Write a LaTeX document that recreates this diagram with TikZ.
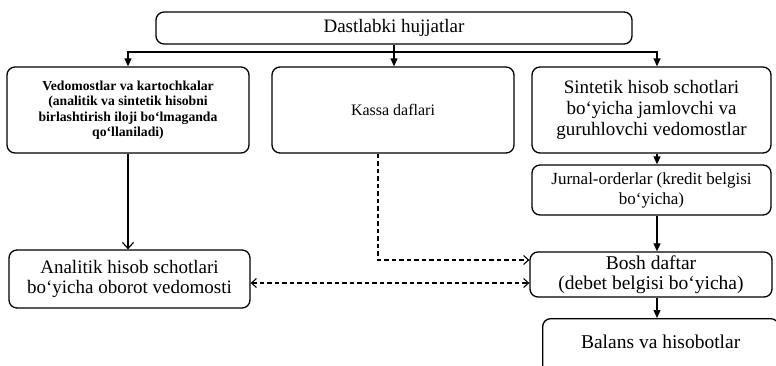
\documentclass[tikz,border=0pt]{standalone}
\usepackage{fontspec}
\setmainfont{Liberation Serif}
\usetikzlibrary{arrows.meta}

\begin{document}
\begin{tikzpicture}[x=1pt,y=-1pt,
  box/.style={draw, line width=1.3pt, rounded corners=8pt, align=center, inner sep=2pt},
  arr/.style={line width=1.2pt, -{Triangle[length=8pt,width=7pt]}},
  openarr/.style={line width=1.2pt, -{Straight Barb[length=6pt,width=11pt]}},
  dline/.style={line width=1.1pt, dash pattern=on 4.5pt off 3pt},
  dasharr/.style={dline, -{Straight Barb[length=5pt,width=9pt]}},
  dboth/.style={dline, {Straight Barb[length=5pt,width=9pt]}-{Straight Barb[length=5pt,width=9pt]}}]

\useasboundingbox (0,0) rectangle (776,365);
\clip (0,0) rectangle (776,365);

% boxes
\node[box, minimum width=476, minimum height=32, font=\fontsize{19}{20}\selectfont]
  (top) at (394,28) {Dastlabki hujjatlar};

\node[box, minimum width=242, minimum height=86, font=\bfseries\fontsize{13.7}{15.5}\selectfont]
  (vedo) at (128,110) {Vedomostlar va kartochkalar\\(analitik va sintetik hisobni\\birlashtirish iloji bo‘lmaganda\\qo‘llaniladi)};
\node[box, minimum width=242, minimum height=86, font=\fontsize{16}{18}\selectfont]
  (kassa) at (393,110) {Kassa daflari};
\node[box, minimum width=239, minimum height=86, font=\fontsize{19}{21}\selectfont]
  (sint) at (651.5,110) {Sintetik hisob schotlari\\bo‘yicha jamlovchi va\\guruhlovchi vedomostlar};

\node[box, minimum width=239, minimum height=50, font=\fontsize{17}{20}\selectfont]
  (jurn) at (651.5,190) {Jurnal-orderlar (kredit belgisi\\bo‘yicha)};
\node[box, minimum width=242, minimum height=45, font=\fontsize{19.5}{20}\selectfont]
  (bosh) at (651,274.5) {Bosh daftar\\(debet belgisi bo‘yicha)};
\node[box, minimum width=241, minimum height=58, font=\fontsize{19}{20}\selectfont]
  (anal) at (129.5,279) {Analitik hisob schotlari\\bo‘yicha oborot vedomosti};
\node[box, anchor=north west, minimum width=236, text height=28pt, text depth=40pt,
  font=\fontsize{19.5}{20}\selectfont]
  (bal) at (542,318) {Balans va hisobotlar};

% connectors
\coordinate (bus) at (394,52);
\coordinate (col) at (657,0);
\draw[arr] (top.south) -- (top.south |- kassa.north);
\draw[arr] (bus) -| (vedo.north);
\draw[arr] (bus) -| (sint.north -| col);
\draw[arr] (sint.south -| col) -- (jurn.north -| col);
\draw[arr] (jurn.south -| col) -- (bosh.north -| col);
\draw[arr] (bosh.south -| col) -- (bal.north -| col);

\draw[openarr] (vedo.south) -- (vedo.south |- anal.north);

\draw[dasharr] ([xshift=-15pt]kassa.south) |- ([yshift=14.5pt]bosh.west);
\draw[dboth] ([yshift=-4pt]anal.east) -- ([yshift=-4pt]anal.east -| bosh.west);

\end{tikzpicture}
\end{document}
